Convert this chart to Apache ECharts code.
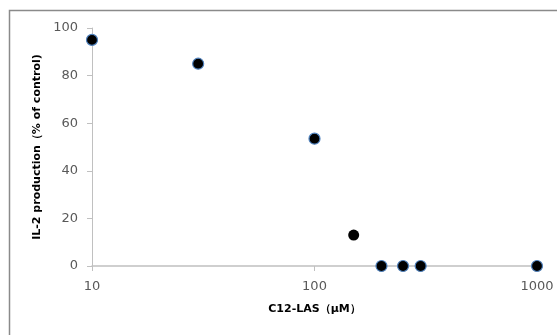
<!DOCTYPE html>
<html><head><meta charset="utf-8">
<script src="https://cdn.jsdelivr.net/npm/echarts@6/dist/echarts.min.js"></script>
<style>html,body{margin:0;padding:0;background:#fff}#c{width:557px;height:335px}</style>
</head><body><div id="c"></div>
<script>
var concentrations = [10, 30, 100, 150, 200, 250, 300, 1000];
var il2Production = [95, 85, 53.5, 13, 0, 0, 0, 0];
var noBorderIndex = [3];
var xTicks = [10, 100, 1000];
var yTicks = [0, 20, 40, 60, 80, 100];

var data = concentrations.map(function (c, i) {
  var d = { value: [c, il2Production[i]] };
  if (noBorderIndex.indexOf(i) >= 0) d.itemStyle = { borderWidth: 0 };
  return d;
});

var chart = echarts.init(document.getElementById('c'), null, { renderer: 'canvas' });
var font = 'DejaVu Sans';
chart.setOption({
  animation: false,
  graphic: [{ type: 'rect', shape: { x: 9.5, y: 10.5, width: 600, height: 400 },
    style: { fill: 'none', stroke: '#8a8a8a', lineWidth: 1.5 }, z: -1 }],
  grid: { left: 92, right: 20, top: 28, bottom: 69 },
  xAxis: {
    type: 'log', logBase: 10, min: xTicks[0], max: xTicks[xTicks.length - 1],
    name: 'C12-LAS（μM）', nameLocation: 'middle', nameGap: 38,
    nameTextStyle: { fontFamily: font, fontSize: 11, fontWeight: 'bold', color: '#000' },
    axisLine: { lineStyle: { color: '#c0c0c0', width: 1.5 } },
    axisTick: { show: true, length: 5, lineStyle: { color: '#c0c0c0' } },
    axisLabel: { margin: 14, fontFamily: font, fontSize: 13, color: '#595959',
      formatter: function (v) { return String(Math.round(v)); } },
    splitLine: { show: false }
  },
  yAxis: {
    type: 'value', min: yTicks[0], max: yTicks[yTicks.length - 1], interval: 20,
    name: 'IL-2 production（% of control)', nameLocation: 'middle', nameGap: 46,
    nameTextStyle: { fontFamily: font, fontSize: 11, fontWeight: 'bold', color: '#000' },
    axisLine: { show: true, lineStyle: { color: '#c0c0c0', width: 1 } },
    axisTick: { show: true, length: 5, lineStyle: { color: '#c0c0c0' } },
    axisLabel: { margin: 14, fontFamily: font, fontSize: 13, color: '#595959' },
    splitLine: { show: false }
  },
  series: [{
    type: 'scatter', data: data, symbol: 'circle', symbolSize: 11,
    itemStyle: { color: '#000', opacity: 1, borderColor: '#4f81bd', borderWidth: 1.2 }
  }]
});
</script></body></html>
